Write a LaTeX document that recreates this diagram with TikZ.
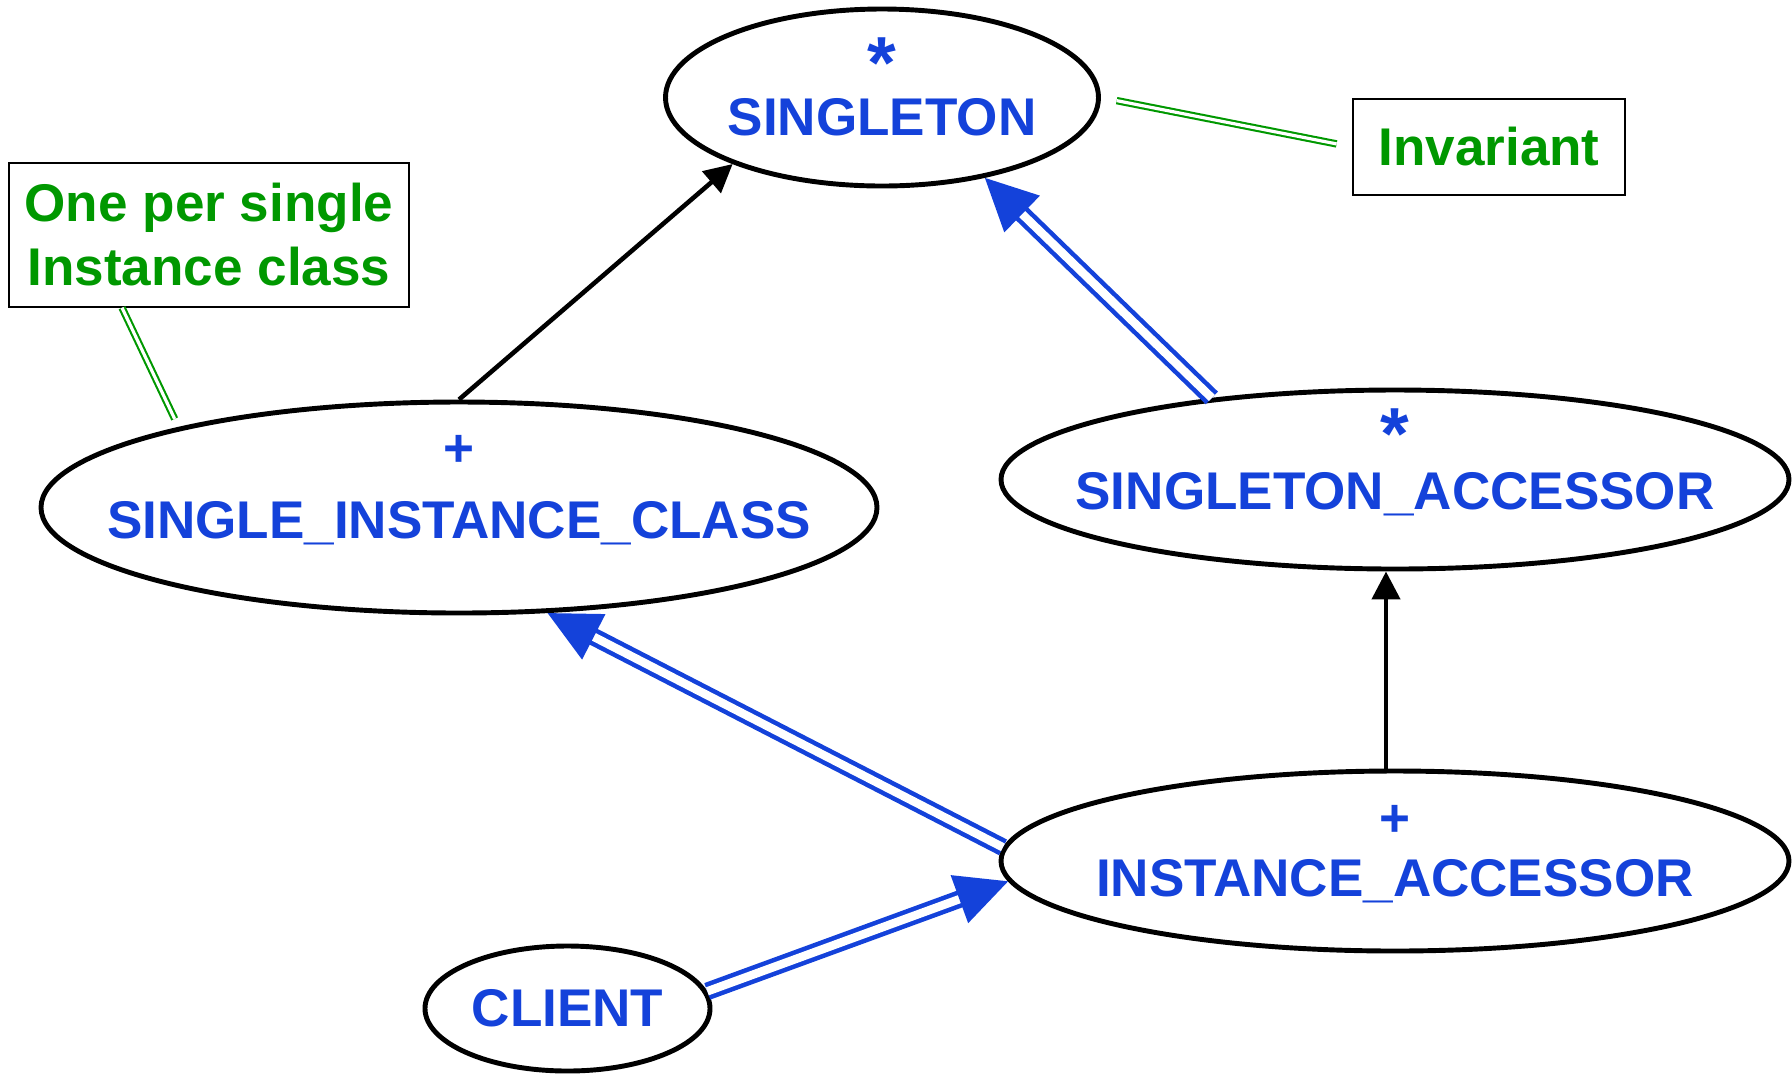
\documentclass[tikz,border=0pt]{standalone}
\usepackage{fontspec}
\setmainfont{Liberation Sans}
\usetikzlibrary{shapes.geometric,arrows.meta}
\definecolor{clsblue}{RGB}{20,66,218}
\definecolor{notegreen}{RGB}{0,152,0}
\newcommand{\clsstar}{{\fontsize{21}{18}\selectfont *}}
\newcommand{\clsplus}{+}
\newcommand{\clsdrop}[1]{\rule[-#1]{0pt}{#1}}
\begin{document}
\begin{tikzpicture}[
    cls/.style={ellipse, draw, line width=1.4pt, inner xsep=-0.8cm, inner ysep=-0.2cm,
      text=clsblue, font=\fontsize{15.1}{18}\selectfont\bfseries, align=center},
    remark/.style={draw, line width=0.4pt, inner sep=0pt, text=notegreen,
      font=\fontsize{15.1}{18.2}\selectfont\bfseries, align=center},
    uses/.style={line width=1.3pt, -{Triangle[length=0.28cm,width=0.28cm]}},
    inherits/.style={draw=clsblue, line width=1.3pt, double=white, double distance=2.4pt,
      -{Triangle[length=0.52cm,width=0.5cm]}},
    noteline/.style={draw=notegreen, line width=0.6pt, double=white, double distance=0.9pt}
  ]
  \useasboundingbox (0,0) rectangle (17.92,-10.73);

  \node[cls, minimum width=4.33cm, minimum height=1.77cm] (singleton) at (8.82,-0.975)
    {\clsstar\\[-4.7pt]SINGLETON\clsdrop{0.22cm}};
  \node[cls, minimum width=8.36cm, minimum height=2.11cm] (sic) at (4.59,-5.075)
    {\clsplus\\[2.3pt]SINGLE\_INSTANCE\_CLASS\clsdrop{0.41cm}};
  \node[cls, minimum width=7.88cm, minimum height=1.79cm] (sa) at (13.95,-4.795)
    {\clsstar\\[-3.9pt]SINGLETON\_ACCESSOR\clsdrop{0.41cm}};
  \node[cls, minimum width=7.88cm, minimum height=1.80cm] (ia) at (13.95,-8.61)
    {\clsplus\\[-1pt]INSTANCE\_ACCESSOR\clsdrop{0.2cm}};
  \node[cls, minimum width=2.85cm, minimum height=1.25cm] (client) at (5.675,-10.085)
    {CLIENT};

  \node[remark, minimum width=2.72cm, minimum height=0.96cm] (inv) at (14.89,-1.47)
    {Invariant};
  \node[remark, minimum width=4.0cm, minimum height=1.44cm] (perclass) at (2.09,-2.35)
    {One per single\\Instance class};

  \draw[uses] (sic.north) -- (singleton.204);
  \draw[inherits] (sa.156) -- (singleton.322);
  \draw[uses] ([xshift=-0.09cm]ia.north) -- ([xshift=-0.09cm]sa.south);
  \draw[inherits] (ia.178) -- (sic.310);
  \draw[inherits] (client.7) -- (ia.183);

  \draw[noteline, shorten <=0.16cm, shorten >=0.16cm] (singleton.east) -- (inv.west);
  \draw[noteline, shorten >=0.09cm] ([xshift=-0.87cm]perclass.south) -- (sic.164);
\end{tikzpicture}
\end{document}
